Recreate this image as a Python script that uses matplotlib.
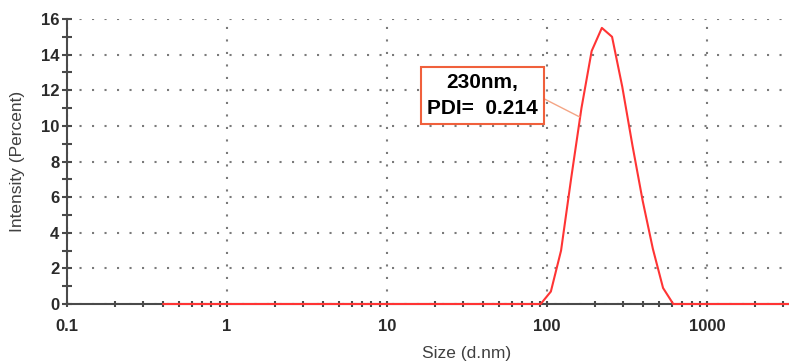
import numpy as np
import matplotlib
matplotlib.use("Agg")
import matplotlib.pyplot as plt
from matplotlib.ticker import LogLocator, MultipleLocator, FixedFormatter, FixedLocator

plt.rcParams['font.family'] = ['Liberation Sans', 'DejaVu Sans']

# size distribution by intensity (d.nm vs %)
size_nm = [0.4, 91.3, 105.7, 122.4, 141.8, 164.2, 190.1, 220.2, 255.0,
           295.3, 342.0, 396.1, 458.7, 531.2, 615.1, 10000]
intensity = [0, 0, 0.7, 3.0, 7.1, 11.0, 14.2, 15.5, 15.0,
             12.2, 8.9, 5.8, 3.1, 0.9, 0, 0]

x_ticks = [0.1, 1, 10, 100, 1000]
x_labels = ["0.1", "1", "10", "100", "1000"]
y_ticks = [0, 2, 4, 6, 8, 10, 12, 14, 16]
note = "230nm,\nPDI=  0.214"

fig = plt.figure(figsize=(7.89, 3.62), dpi=100)
ax = fig.add_axes([67/789, 58/362, 1 - 67/789, 285/362])

ax.plot(size_nm, intensity, color='#ff3434', lw=1.5, clip_on=False, zorder=4)

ax.set_xscale('log')
ax.set_xlim(0.1, 3254)
ax.set_ylim(0, 16)

ax.xaxis.set_major_locator(FixedLocator(x_ticks))
ax.xaxis.set_major_formatter(FixedFormatter(x_labels))
ax.xaxis.set_minor_locator(LogLocator(base=10, subs=np.arange(2, 10)))
ax.yaxis.set_major_locator(FixedLocator(y_ticks))
ax.yaxis.set_minor_locator(MultipleLocator(1))

for s in ['top', 'right']:
    ax.spines[s].set_visible(False)
for s in ['left', 'bottom']:
    ax.spines[s].set_color('#4a4a4a')
    ax.spines[s].set_linewidth(1.5)

ax.tick_params(axis='y', which='both', direction='inout', length=7, width=1.5,
               color='#4a4a4a', pad=2, labelsize=12, labelcolor='#2a2a2a')
ax.tick_params(axis='x', which='both', direction='inout', length=4, width=1.5,
               color='#4a4a4a', pad=9, labelsize=12, labelcolor='#2a2a2a')
for lab in ax.get_xticklabels() + ax.get_yticklabels():
    lab.set_fontweight('bold')

ax.grid(True, which='major', color='#7a7a7a', linestyle=(0, (1, 5)), lw=1.5)

ax.set_ylabel("Intensity (Percent)", fontsize=12.5, color='#404040', va='center')
ax.yaxis.set_label_coords(-0.068, 0.5)
ax.set_xlabel("Size (d.nm)", fontsize=12.5, color='#404040', va='center')
ax.xaxis.set_label_coords(0.554, -0.175)

ax.annotate(note, xy=(160, 10.5), xytext=(39.5, 11.7),
            ha='center', va='center', fontsize=15, fontweight='bold',
            color='black', linespacing=1.45, zorder=6,
            bbox=dict(boxstyle='square,pad=0.3', fc='white', ec='#f0603c', lw=1.5),
            arrowprops=dict(arrowstyle='-', color='#f4a585', lw=1.0,
                            shrinkA=0, shrinkB=0, relpos=(1, 0.5)))

fig.savefig("out.png", dpi=100)
